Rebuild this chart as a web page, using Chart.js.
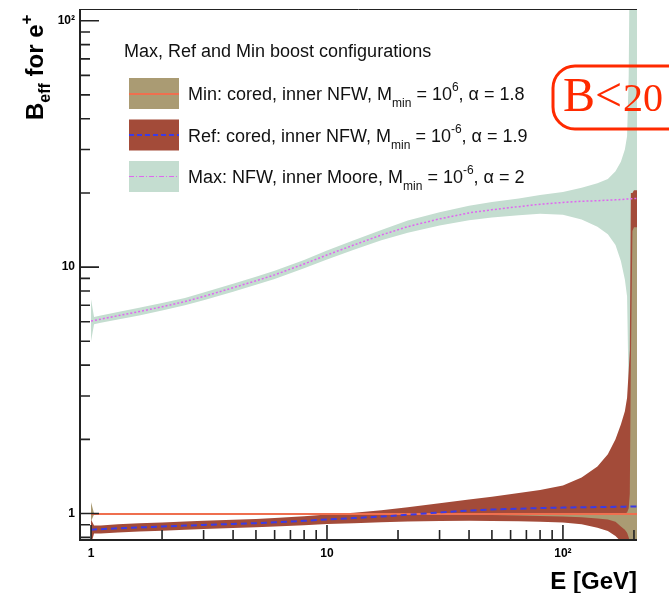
<!DOCTYPE html>
<html>
<head>
<meta charset="utf-8">
<script src="https://cdn.jsdelivr.net/npm/chart.js@4.4.1/dist/chart.umd.min.js"></script>
<style>
  html, body { margin: 0; padding: 0; background: #fff; }
  canvas { display: block; }
</style>
</head>
<body>
<canvas id="boostChart" width="669" height="593"></canvas>
<script>
// energy grid (GeV) and band values
const energies = [1, 1.03, 1.1, 1.3, 1.6, 2, 2.5, 3, 4, 5, 6, 8, 10, 13, 17, 22, 30, 40, 50, 65,
                  80, 100, 120, 140, 155, 167, 176, 183, 187, 190, 192, 194, 197, 200, 203, 206];

const maxMid  = [6.05, 6.07, 6.15, 6.35, 6.6, 6.9, 7.25, 7.6, 8.25, 8.8, 9.3, 10.3, 11.2, 12.3, 13.5, 14.6, 15.7, 16.6, 17.1, 17.6,
                 18.0, 18.3, 18.5, 18.6, 18.7, 18.75, 18.8, 18.85, 18.9, 18.9, 18.9, 18.95, 18.95, 19.0, 19.0, 19.0];
const maxLow  = [5.0, 5.87, 5.95, 6.13, 6.37, 6.66, 7.0, 7.33, 7.95, 8.48, 8.95, 9.9, 10.75, 11.75, 12.85, 13.8, 14.75, 15.5, 15.9, 16.25,
                 16.45, 16.3, 15.6, 14.6, 13.6, 12.3, 10.6, 8.9, 7.6, 3.0, 0.75, 0.75, 0.75, 0.75, 0.75, 0.75];
const maxHigh = [7.4, 6.28, 6.37, 6.58, 6.84, 7.15, 7.5, 7.88, 8.56, 9.13, 9.66, 10.7, 11.67, 12.85, 14.15, 15.45, 16.7, 17.75, 18.4, 19.0,
                 19.6, 20.2, 21.0, 21.9, 22.8, 24.5, 26.8, 30, 34, 60, 200, 200, 200, 200, 200, 200];

const refMid  = [0.86, 0.861, 0.864, 0.871, 0.878, 0.885, 0.893, 0.899, 0.907, 0.914, 0.921, 0.934, 0.946, 0.958, 0.972, 0.988, 1.01, 1.028, 1.038, 1.046,
                 1.052, 1.057, 1.06, 1.062, 1.063, 1.064, 1.065, 1.066, 1.067, 1.067, 1.067, 1.068, 1.068, 1.068, 1.068, 1.068];
const refLow  = [0.75, 0.83, 0.83, 0.837, 0.845, 0.852, 0.86, 0.865, 0.873, 0.879, 0.885, 0.897, 0.906, 0.914, 0.922, 0.928, 0.933, 0.935, 0.933, 0.93,
                 0.926, 0.92, 0.905, 0.875, 0.85, 0.81, 0.77, 0.75, 0.75, 0.75, 0.75, 0.75, 0.75, 0.75, 0.75, 0.75];
const refHigh = [0.945, 0.895, 0.895, 0.905, 0.913, 0.92, 0.928, 0.934, 0.943, 0.95, 0.958, 0.975, 0.99, 1.007, 1.03, 1.06, 1.1, 1.14, 1.17, 1.21,
                 1.245, 1.3, 1.4, 1.55, 1.74, 2.0, 2.3, 2.6, 2.95, 3.8, 4.6, 20, 20, 20.5, 20.5, 20.5];

const minMid  = [0.995, 0.995, 0.995, 0.995, 0.995, 0.995, 0.995, 0.995, 0.995, 0.995, 0.995, 0.995, 0.995, 0.995, 0.995, 0.995, 0.995, 0.995, 0.995, 0.995,
                 0.995, 0.995, 0.995, 0.995, 0.995, 0.995, 0.995, 0.995, 0.995, 0.995, 0.995, 0.995, 0.995, 0.995, 0.995, 0.995];
const minLow  = [0.93, 0.99, 0.99, 0.99, 0.99, 0.99, 0.99, 0.99, 0.99, 0.99, 0.99, 0.99, 0.99, 0.99, 0.99, 0.99, 0.99, 0.99, 0.985, 0.982,
                 0.978, 0.972, 0.965, 0.955, 0.945, 0.925, 0.885, 0.86, 0.835, 0.8, 0.77, 0.75, 0.75, 0.75, 0.75, 0.75];
const minHigh = [1.11, 1.0, 1.0, 1.0, 1.0, 1.0, 1.0, 1.0, 1.0, 1.0, 1.0, 1.0, 1.0, 1.0, 1.0, 1.0, 1.0, 1.0, 1.0, 1.0,
                 1.0, 1.0, 1.0, 1.0, 1.0, 1.0, 1.0, 1.0, 1.01, 1.05, 1.2, 4, 14, 14.5, 14.5, 14.5];

const xMajorTicks = [1, 10, 100];
const xMinorTicks = [2, 3, 4, 5, 6, 7, 8, 9, 20, 30, 40, 50, 60, 70, 80, 90, 200];
const yMajorTicks = [1, 10, 100];
const yMinorTicks = [0.8, 0.9, 2, 3, 4, 5, 6, 7, 8, 9, 20, 30, 40, 50, 60, 70, 80, 90];
const tickLabels = { 1: "1", 10: "10", 100: "10²" };

const legendTitle = "Max, Ref and Min boost configurations";
const legendEntries = [
    [["Min: cored, inner NFW, M", 18], ["min", 12, 7], [" = 10", 18], ["6", 12, -9], [", α = 1.8", 18]],
    [["Ref: cored, inner NFW, M", 18], ["min", 12, 7], [" = 10", 18], ["-6", 12, -9], [", α = 1.9", 18]],
    [["Max: NFW, inner Moore, M", 18], ["min", 12, 7], [" = 10", 18], ["-6", 12, -9], [", α = 2", 18]]
];

const GREEN = "#c4ddd0";
const RED = "#a34b39";
const KHAKI = "#aa9b73";
const ORANGE = "#ef6f4f";
const BLUE = "#3b3be6";
const MAGENTA = "#e066f0";
const FONT = '"Liberation Sans", Arial, Helvetica, sans-serif';

const pts = arr => energies.map((e, i) => ({ x: e, y: arr[i] }));

function edge(arr, fill, color, order) {
    return {
        data: pts(arr), fill: fill, backgroundColor: color,
        borderColor: "rgba(0,0,0,0)", borderWidth: 0, pointRadius: 0, order: order
    };
}

function line(arr, color, dash, width) {
    return {
        data: pts(arr), fill: false, borderColor: color, borderDash: dash,
        borderWidth: width, pointRadius: 0, order: 0
    };
}

function richText(ctx, x, y, parts, weight) {
    for (const p of parts) {
        ctx.font = weight + " " + p[1] + "px " + FONT;
        ctx.fillText(p[0], x, y + (p[2] || 0));
        x += ctx.measureText(p[0]).width;
    }
}

const decorations = {
    id: "decorations",
    beforeDatasetsDraw(chart) {
        const { ctx, chartArea: a } = chart;
        ctx.save();
        ctx.strokeStyle = "#777";
        ctx.lineWidth = 1;
        ctx.beginPath();
        ctx.moveTo(a.right - 0.5, a.top);
        ctx.lineTo(a.right - 0.5, a.bottom);
        ctx.stroke();
        ctx.restore();
    },
    afterDatasetsDraw(chart) {
        const { ctx, chartArea: a, scales: { x, y } } = chart;
        ctx.save();
        ctx.strokeStyle = "#222";
        ctx.lineWidth = 1;
        ctx.beginPath();
        ctx.moveTo(a.left, a.top + 0.5);
        ctx.lineTo(a.right, a.top + 0.5);
        ctx.stroke();

        ctx.lineWidth = 2;
        ctx.beginPath();
        ctx.moveTo(a.left, a.top);
        ctx.lineTo(a.left, a.bottom + 1);
        ctx.lineTo(a.right, a.bottom + 1);
        ctx.stroke();

        // ticks point inward, ROOT style
        ctx.lineWidth = 1.6;
        ctx.beginPath();
        yMajorTicks.forEach(v => { const p = y.getPixelForValue(v); ctx.moveTo(a.left, p); ctx.lineTo(a.left + 19, p); });
        yMinorTicks.forEach(v => { const p = y.getPixelForValue(v); ctx.moveTo(a.left, p); ctx.lineTo(a.left + 10, p); });
        xMajorTicks.forEach(v => { const p = x.getPixelForValue(v); ctx.moveTo(p, a.bottom); ctx.lineTo(p, a.bottom - 14); });
        xMinorTicks.forEach(v => { const p = x.getPixelForValue(v); ctx.moveTo(p, a.bottom); ctx.lineTo(p, a.bottom - 9); });
        ctx.stroke();
        ctx.restore();
    },
    afterDraw(chart) {
        const { ctx, chartArea: a } = chart;
        ctx.save();
        ctx.fillStyle = "#000";
        ctx.textAlign = "left";
        ctx.textBaseline = "alphabetic";

        // axis titles
        ctx.save();
        ctx.translate(43, 120);
        ctx.rotate(-Math.PI / 2);
        richText(ctx, 0, 0, [["B", 24], ["eff", 16, 7], [" for e", 24], ["+", 17, -11]], "bold");
        ctx.restore();

        ctx.font = "bold 24px " + FONT;
        ctx.textAlign = "right";
        ctx.fillText("E [GeV]", a.right, 589);
        ctx.textAlign = "left";

        // legend
        ctx.font = "18px " + FONT;
        ctx.fillStyle = "#111";
        ctx.fillText(legendTitle, 124, 57);
        const boxColors = [KHAKI, RED, GREEN];
        const boxTops = [78, 119.5, 161];
        legendEntries.forEach((parts, i) => {
            ctx.fillStyle = boxColors[i];
            ctx.fillRect(129, boxTops[i], 50, 31);
            ctx.fillStyle = "#111";
            richText(ctx, 188, boxTops[i] + 22, parts, "normal");
        });
        ctx.lineWidth = 2;
        ctx.strokeStyle = ORANGE;
        ctx.beginPath(); ctx.moveTo(129, 94); ctx.lineTo(179, 94); ctx.stroke();
        ctx.strokeStyle = BLUE;
        ctx.setLineDash([5, 3]);
        ctx.beginPath(); ctx.moveTo(129, 135); ctx.lineTo(179, 135); ctx.stroke();
        ctx.strokeStyle = MAGENTA;
        ctx.lineWidth = 1.2;
        ctx.setLineDash([5, 2, 1, 2]);
        ctx.beginPath(); ctx.moveTo(129, 176.5); ctx.lineTo(179, 176.5); ctx.stroke();
        ctx.setLineDash([]);

        // B<20 note
        ctx.strokeStyle = "#ff2a00";
        ctx.fillStyle = "#ff2a00";
        ctx.lineWidth = 3;
        ctx.beginPath();
        ctx.roundRect(553, 66, 160, 63, 22);
        ctx.stroke();
        ctx.font = '48px "Liberation Serif", "Times New Roman", serif';
        ctx.fillText("B<", 563, 111);
        const w = ctx.measureText("B<").width;
        ctx.font = '40px "Liberation Serif", "Times New Roman", serif';
        ctx.fillText("20", 563 + w + 1, 111);
        ctx.restore();
    }
};

const tickFont = { family: FONT, weight: "bold", size: 12 };

new Chart(document.getElementById("boostChart").getContext("2d"), {
    type: "line",
    data: {
        datasets: [
            edge(maxHigh, "+1", GREEN, 3),
            edge(maxLow, false, GREEN, 3),
            edge(refHigh, "+1", RED, 2),
            edge(refLow, false, RED, 2),
            edge(minHigh, "+1", KHAKI, 1),
            edge(minLow, false, KHAKI, 1),
            line(maxMid, MAGENTA, [2, 2], 1.5),
            line(refMid, BLUE, [6, 4], 2),
            line(minMid, ORANGE, [], 2)
        ]
    },
    options: {
        responsive: false,
        animation: false,
        events: [],
        layout: { padding: { top: 9, right: 32, left: 0, bottom: 0 } },
        plugins: { legend: { display: false }, tooltip: { enabled: false } },
        scales: {
            x: {
                type: "logarithmic", min: 0.898, max: 206, bounds: "data",
                grid: { display: false, drawTicks: false }, border: { display: false },
                ticks: { font: tickFont, color: "#000", padding: 7, autoSkip: false, maxRotation: 0,
                         callback: v => tickLabels[v] ?? "" },
                afterBuildTicks: s => { s.ticks = xMajorTicks.map(v => ({ value: v })); },
                afterFit: s => { s.height = 54; s.paddingLeft = 0; s.paddingRight = 0; }
            },
            y: {
                type: "logarithmic", min: 0.788, max: 111.6, bounds: "data",
                grid: { display: false, drawTicks: false }, border: { display: false },
                ticks: { font: tickFont, color: "#000", padding: 5, autoSkip: false,
                         callback: v => tickLabels[v] ?? "" },
                afterBuildTicks: s => { s.ticks = yMajorTicks.map(v => ({ value: v })); },
                afterFit: s => { s.width = 80; s.paddingTop = 0; s.paddingBottom = 0; }
            }
        }
    },
    plugins: [decorations]
});
</script>
</body>
</html>
